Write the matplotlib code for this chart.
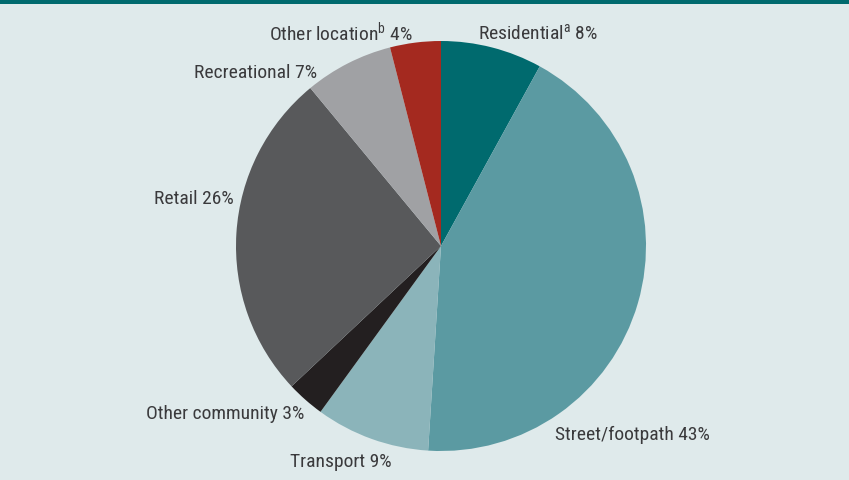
import matplotlib
matplotlib.use("Agg")
from matplotlib import pyplot as plt
from matplotlib.patches import Rectangle

labels = ['Residential', 'Street/footpath', 'Transport', 'Other community',
          'Retail', 'Recreational', 'Other location']
notes = ['a', '', '', '', '', '', 'b']
shares = [8, 43, 9, 3, 26, 7, 4]
colors = ['#006a6e', '#5b9aa2', '#8bb4ba', '#231f20', '#58595b', '#a0a1a4', '#a4291f']

# label anchor points (pixels, from top-left)
label_pos = [(538, 34), (632, 435), (341, 462), (225, 414), (194, 199), (256, 73), (341, 33)]

plt.rcParams['font.family'] = ['Roboto Condensed', 'Liberation Sans Narrow', 'Roboto', 'DejaVu Sans']
plt.rcParams['mathtext.fontset'] = 'custom'
plt.rcParams['mathtext.rm'] = 'Roboto Condensed'

W, H = 849, 481
fig = plt.figure(figsize=(W / 100, H / 100), dpi=100)
fig.patch.set_facecolor('#dfeaeb')
ax = fig.add_axes([0, 0, 1, 1])

ax.add_patch(Rectangle((0, H - 5), W, 5, color='#006a6e', lw=0))

ax.pie(shares, colors=colors, startangle=90, counterclock=False,
       center=(441, H - 247), radius=205, frame=True,
       wedgeprops=dict(linewidth=0))
ax.set_xlim(0, W)
ax.set_ylim(0, H)
ax.axis('off')

for lab, note, val, (px, py) in zip(labels, notes, shares, label_pos):
    if note:
        s = lab + r'$^{\mathregular{' + note + '}}$' + ' %d%%' % val
    else:
        s = '%s %d%%' % (lab, val)
    ax.text(px, H - py, s, ha='center', va='center', fontsize=14, color='#3a3a3c')

fig.savefig('out.png', dpi=100, facecolor=fig.get_facecolor())
